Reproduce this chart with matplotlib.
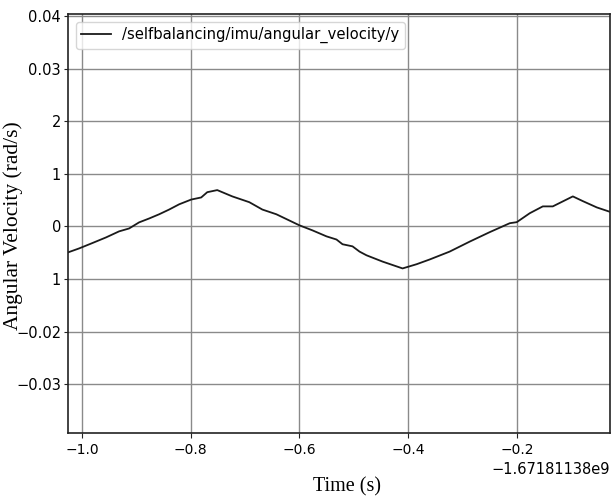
import matplotlib
matplotlib.use("Agg")
import matplotlib.pyplot as plt
from matplotlib.ticker import FixedLocator, FixedFormatter

# Time relative to offset (s)
time_s = [-1.0258, -1.0055, -0.9816, -0.9558, -0.9318, -0.9134, -0.8950, -0.8765,
          -0.8581, -0.8397, -0.8212, -0.7991, -0.7807, -0.7696, -0.7512, -0.7235,
          -0.6922, -0.6682, -0.6424, -0.6000, -0.5760, -0.5502, -0.5318, -0.5207,
          -0.5023, -0.4894, -0.4766, -0.4470, -0.4102, -0.3844, -0.3604, -0.3236,
          -0.2867, -0.2499, -0.2130, -0.2001, -0.1762, -0.1522, -0.1338, -0.0969,
          -0.0785, -0.0527, -0.0267]
ang_vel = [-0.00495, -0.0042, -0.0032, -0.0021, -0.00095, -0.0004, 0.00076, 0.0015,
           0.0023, 0.0032, 0.0042, 0.0051, 0.0055, 0.0065, 0.0069, 0.0057,
           0.0046, 0.0032, 0.0023, 0.0002, -0.00076, -0.0019, -0.0025, -0.0034,
           -0.0038, -0.0048, -0.0055, -0.0067, -0.0080, -0.0072, -0.0063, -0.0048,
           -0.0029, -0.0011, 0.0006, 0.0008, 0.0025, 0.0038, 0.0038, 0.0057,
           0.0048, 0.0036, 0.0027]

ytick_vals = [0.04, 0.03, 0.02, 0.01, 0.0, -0.01, -0.02, -0.03]
ytick_labels = ["0.04", "0.03", "2", "1", "0", "1", "\u22120.02", "\u22120.03"]
xtick_vals = [-1.0, -0.8, -0.6, -0.4, -0.2]
offset_label = "\u22121.67181138e9"
series_name = "/selfbalancing/imu/angular_velocity/y"

fig = plt.figure(figsize=(6.11, 4.99), dpi=100)
ax = fig.add_axes([0.1113, 0.1323, 0.8871, 0.8397])

ax.plot(time_s, ang_vel, color="#1a1a1a", lw=1.3, label=series_name)

ax.set_xlim(-1.0258, -0.0285)
ax.set_ylim(-0.0393, 0.0404)
ax.xaxis.set_major_locator(FixedLocator(xtick_vals))
ax.yaxis.set_major_locator(FixedLocator(ytick_vals))
ax.yaxis.set_major_formatter(FixedFormatter(ytick_labels))
ax.tick_params(axis="x", labelsize=10, length=3.5, color="#222222")
ax.tick_params(axis="y", labelsize=10.5, length=3, pad=2, color="#222222")

ax.grid(True, color="#8a8a8a", lw=1.0)
for s in ax.spines.values():
    s.set_color("#222222")
    s.set_linewidth(1.2)

ax.set_xlabel("Time (s)", family="Liberation Serif", fontsize=14.5)
ax.xaxis.set_label_coords(0.515, -0.105)
ax.set_ylabel("Angular Velocity (rad/s)", family="Liberation Serif", fontsize=15.5)
ax.yaxis.set_label_coords(-0.083, 0.494)
ax.text(1.0, -0.088, offset_label, transform=ax.transAxes, ha="right", va="center",
        fontsize=10.5)

leg = ax.legend(loc="upper left", fontsize=10.6, frameon=True, fancybox=True,
                borderaxespad=0.55, handlelength=2.0, borderpad=0.35)
leg.get_frame().set_edgecolor("#cccccc")

fig.savefig("out.png", dpi=100)
